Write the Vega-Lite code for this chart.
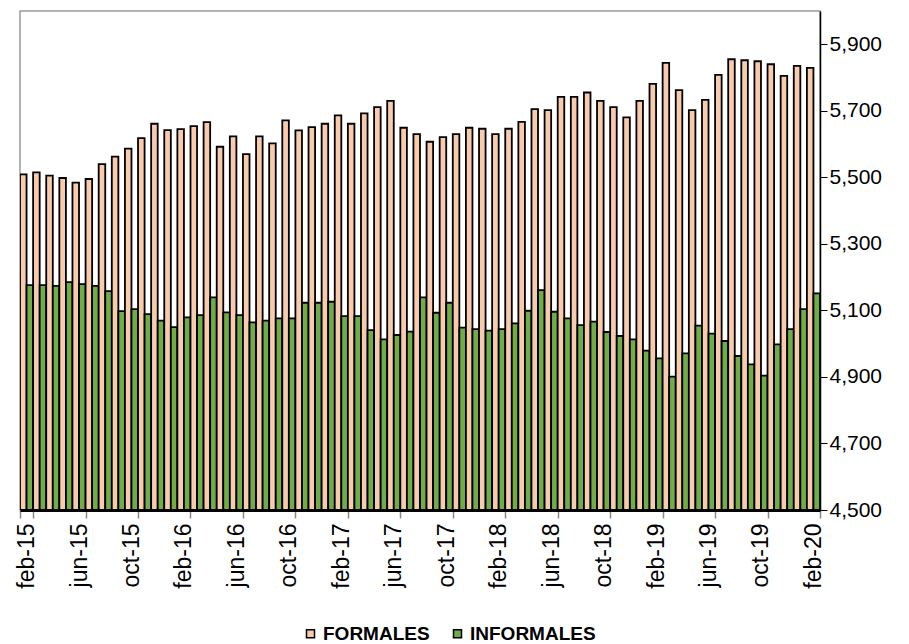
{
  "$schema": "https://vega.github.io/schema/vega-lite/v6.json",
  "autosize": "none",
  "width": 800,
  "height": 499,
  "padding": {"left": 20, "top": 11, "right": 89, "bottom": 134},
  "background": "white",
  "config": {"view": {"stroke": "#9a9a9a", "strokeWidth": 1.5}, "font": "Liberation Sans"},
  "data": {"values": [
    {"mes": "feb-15", "FORMALES": 5509, "INFORMALES": 5176},
    {"mes": "mar-15", "FORMALES": 5515, "INFORMALES": 5176},
    {"mes": "abr-15", "FORMALES": 5505, "INFORMALES": 5174},
    {"mes": "may-15", "FORMALES": 5498, "INFORMALES": 5185},
    {"mes": "jun-15", "FORMALES": 5484, "INFORMALES": 5179},
    {"mes": "jul-15", "FORMALES": 5495, "INFORMALES": 5174},
    {"mes": "ago-15", "FORMALES": 5540, "INFORMALES": 5158},
    {"mes": "sep-15", "FORMALES": 5562, "INFORMALES": 5098},
    {"mes": "oct-15", "FORMALES": 5586, "INFORMALES": 5104},
    {"mes": "nov-15", "FORMALES": 5618, "INFORMALES": 5089},
    {"mes": "dic-15", "FORMALES": 5661, "INFORMALES": 5069},
    {"mes": "ene-16", "FORMALES": 5642, "INFORMALES": 5050},
    {"mes": "feb-16", "FORMALES": 5645, "INFORMALES": 5079},
    {"mes": "mar-16", "FORMALES": 5654, "INFORMALES": 5086},
    {"mes": "abr-16", "FORMALES": 5666, "INFORMALES": 5139},
    {"mes": "may-16", "FORMALES": 5592, "INFORMALES": 5094},
    {"mes": "jun-16", "FORMALES": 5623, "INFORMALES": 5086},
    {"mes": "jul-16", "FORMALES": 5570, "INFORMALES": 5064},
    {"mes": "ago-16", "FORMALES": 5623, "INFORMALES": 5069},
    {"mes": "sep-16", "FORMALES": 5602, "INFORMALES": 5076},
    {"mes": "oct-16", "FORMALES": 5671, "INFORMALES": 5076},
    {"mes": "nov-16", "FORMALES": 5641, "INFORMALES": 5123},
    {"mes": "dic-16", "FORMALES": 5651, "INFORMALES": 5123},
    {"mes": "ene-17", "FORMALES": 5661, "INFORMALES": 5126},
    {"mes": "feb-17", "FORMALES": 5686, "INFORMALES": 5083},
    {"mes": "mar-17", "FORMALES": 5661, "INFORMALES": 5083},
    {"mes": "abr-17", "FORMALES": 5692, "INFORMALES": 5041},
    {"mes": "may-17", "FORMALES": 5711, "INFORMALES": 5013},
    {"mes": "jun-17", "FORMALES": 5730, "INFORMALES": 5026},
    {"mes": "jul-17", "FORMALES": 5649, "INFORMALES": 5036},
    {"mes": "ago-17", "FORMALES": 5630, "INFORMALES": 5139},
    {"mes": "sep-17", "FORMALES": 5607, "INFORMALES": 5093},
    {"mes": "oct-17", "FORMALES": 5621, "INFORMALES": 5123},
    {"mes": "nov-17", "FORMALES": 5630, "INFORMALES": 5048},
    {"mes": "dic-17", "FORMALES": 5649, "INFORMALES": 5044},
    {"mes": "ene-18", "FORMALES": 5646, "INFORMALES": 5039},
    {"mes": "feb-18", "FORMALES": 5630, "INFORMALES": 5044},
    {"mes": "mar-18", "FORMALES": 5646, "INFORMALES": 5061},
    {"mes": "abr-18", "FORMALES": 5667, "INFORMALES": 5099},
    {"mes": "may-18", "FORMALES": 5705, "INFORMALES": 5161},
    {"mes": "jun-18", "FORMALES": 5702, "INFORMALES": 5096},
    {"mes": "jul-18", "FORMALES": 5742, "INFORMALES": 5076},
    {"mes": "ago-18", "FORMALES": 5742, "INFORMALES": 5056},
    {"mes": "sep-18", "FORMALES": 5755, "INFORMALES": 5066},
    {"mes": "oct-18", "FORMALES": 5730, "INFORMALES": 5035},
    {"mes": "nov-18", "FORMALES": 5711, "INFORMALES": 5023},
    {"mes": "dic-18", "FORMALES": 5680, "INFORMALES": 5013},
    {"mes": "ene-19", "FORMALES": 5730, "INFORMALES": 4979},
    {"mes": "feb-19", "FORMALES": 5781, "INFORMALES": 4956},
    {"mes": "mar-19", "FORMALES": 5844, "INFORMALES": 4901},
    {"mes": "abr-19", "FORMALES": 5762, "INFORMALES": 4971},
    {"mes": "may-19", "FORMALES": 5702, "INFORMALES": 5054},
    {"mes": "jun-19", "FORMALES": 5733, "INFORMALES": 5030},
    {"mes": "jul-19", "FORMALES": 5808, "INFORMALES": 5008},
    {"mes": "ago-19", "FORMALES": 5855, "INFORMALES": 4963},
    {"mes": "sep-19", "FORMALES": 5852, "INFORMALES": 4938},
    {"mes": "oct-19", "FORMALES": 5849, "INFORMALES": 4904},
    {"mes": "nov-19", "FORMALES": 5840, "INFORMALES": 4998},
    {"mes": "dic-19", "FORMALES": 5805, "INFORMALES": 5044},
    {"mes": "ene-20", "FORMALES": 5835, "INFORMALES": 5104},
    {"mes": "feb-20", "FORMALES": 5829, "INFORMALES": 5151}
  ]},
  "transform": [{"fold": ["FORMALES", "INFORMALES"], "as": ["serie", "valor"]}],
  "mark": {"type": "bar", "stroke": "black", "strokeWidth": 1.8, "clip": true},
  "encoding": {
    "x": {
      "field": "mes", "type": "ordinal", "sort": null,
      "scale": {"paddingInner": 0, "paddingOuter": 0},
      "axis": {
        "title": null,
        "values": ["feb-15", "jun-15", "oct-15", "feb-16", "jun-16", "oct-16", "feb-17", "jun-17", "oct-17", "feb-18", "jun-18", "oct-18", "feb-19", "jun-19", "oct-19", "feb-20"],
        "labelAngle": -90, "labelFontSize": 23, "labelColor": "black",
        "tickColor": "#888888", "tickSize": 8, "tickWidth": 1.5, "tickBand": "extent", "tickExtra": false,
        "domainColor": "black", "domainWidth": 3, "labelPadding": 5
      }
    },
    "xOffset": {"field": "serie", "type": "nominal", "sort": ["FORMALES", "INFORMALES"], "scale": {"paddingInner": 0, "paddingOuter": 0}},
    "y": {
      "field": "valor", "type": "quantitative",
      "scale": {"domain": [4500, 6000], "zero": false, "nice": false},
      "axis": {
        "orient": "right", "title": null,
        "values": [4500, 4700, 4900, 5100, 5300, 5500, 5700, 5900],
        "format": ",.0f", "labelFontSize": 21, "labelColor": "black",
        "tickColor": "black", "tickSize": 7, "domainColor": "black", "domainWidth": 1.5,
        "grid": false, "labelPadding": 2
      }
    },
    "y2": {"datum": 4500},
    "fill": {
      "field": "serie", "type": "nominal",
      "scale": {"domain": ["FORMALES", "INFORMALES"], "range": ["#F8CBAD", "#70AD47"]},
      "legend": {
        "title": null, "orient": "none", "legendX": 281, "legendY": 613,
        "direction": "horizontal", "labelFontSize": 19, "labelFontWeight": "bold", "labelColor": "black",
        "symbolType": "square", "symbolSize": 64, "symbolStrokeColor": "black", "symbolStrokeWidth": 1.5,
        "labelOffset": 3, "columnPadding": 18, "padding": 0
      }
    }
  }
}
